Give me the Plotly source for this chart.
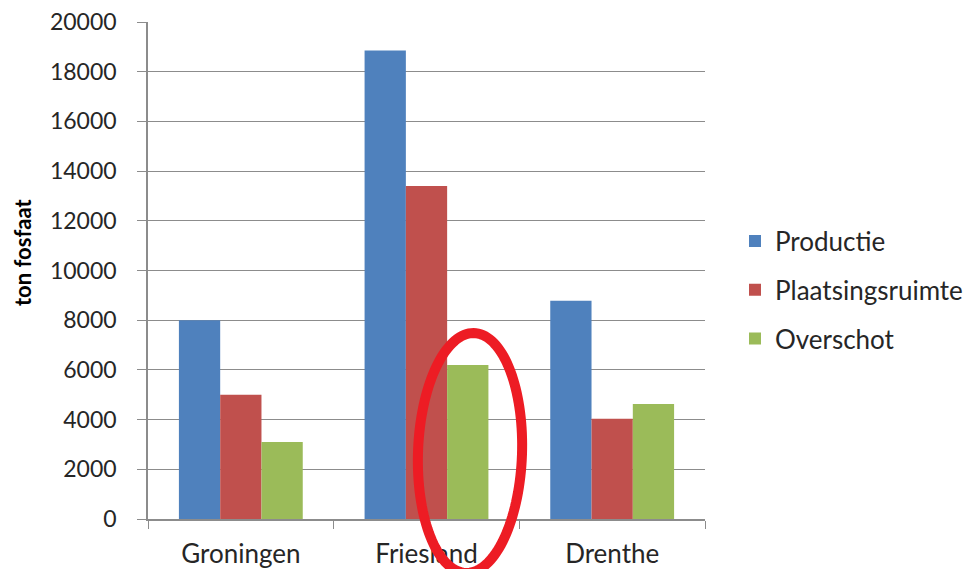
import numpy as np
import plotly.graph_objects as go

categories = ["Groningen", "Friesland", "Drenthe"]
productie = [8000, 18850, 8780]
plaatsingsruimte = [5000, 13400, 4030]
overschot = [3100, 6200, 4630]
series_names = ["Productie", "Plaatsingsruimte", "Overschot"]
colors = ["#4F81BD", "#C0504D", "#9BBB59"]
y_min, y_max, y_step = 0, 20000, 2000

FONT = "Lato"
# page body has an 8px margin; figure occupies x 8..974, y 8..569
OFF = 8
W, H = 974 - OFF, 569 - OFF
L, R, T, B = 148 - OFF, 974 - 705, 22 - OFF, 569 - 519

fig = go.Figure()
for i, (name, vals) in enumerate(zip(series_names, [productie, plaatsingsruimte, overschot])):
    fig.add_trace(go.Bar(x=categories, y=vals, name=name, marker=dict(color=colors[i], line_width=0),
                         legendgroup=name))

# Red ellipse annotation (page-pixel geometry converted to paper coords)
pw, ph = 705 - 148, 519 - 22
cx, cy, a, b, ang = 470, 453, 52, 120, np.deg2rad(2)
t = np.linspace(0, 2 * np.pi, 140)
ex = a * np.cos(t)
ey = b * np.sin(t)
px = cx + ex * np.cos(ang) + ey * np.sin(ang)
py = cy - (-ex * np.sin(ang) + ey * np.cos(ang))
xp = (px - 148) / pw
yp = (519 - py) / ph
path = "M " + " L ".join(f"{x:.5f},{y:.5f}" for x, y in zip(xp, yp)) + " Z"
fig.add_shape(type="path", path=path, xref="paper", yref="paper",
              line=dict(color="#ED1C24", width=10), fillcolor="rgba(0,0,0,0)", layer="above")

fig.add_annotation(text="<b>ton fosfaat</b>", textangle=-90, xref="paper", yref="paper",
                   x=(22 - 148) / pw, y=(519 - 253) / ph, xanchor="center", yanchor="middle",
                   showarrow=False, font=dict(family=FONT, size=22, color="#000000"))

fig.update_layout(
    width=W, height=H,
    margin=dict(l=L, r=R, t=T, b=B, autoexpand=False),
    paper_bgcolor="white", plot_bgcolor="white",
    barmode="group", bargap=0.333, bargroupgap=0,
    font=dict(family=FONT, size=26, color="#262626"),
    legend=dict(x=(735 - 148) / pw, y=(519 - 290) / ph, xanchor="left", yanchor="middle",
                font=dict(size=26, color="#262626"), tracegroupgap=12,
                traceorder="grouped", itemwidth=30),
    xaxis=dict(showline=True, linecolor="#8C8C8C", linewidth=1.5, ticks="outside",
               tickson="boundaries", ticklen=8, tickcolor="#8C8C8C",
               tickfont=dict(size=26), showgrid=False, automargin=False,
               ticklabelstandoff=11),
    yaxis=dict(range=[y_min, y_max], tickmode="linear", tick0=y_min, dtick=y_step,
               tickformat="d", showline=True, ticklabeloverflow="allow",
               linecolor="#8C8C8C", linewidth=1.5, ticks="outside", ticklen=9,
               tickcolor="#8C8C8C", gridcolor="#8C8C8C", gridwidth=1, zeroline=False,
               tickfont=dict(size=23), automargin=False, ticklabelstandoff=16),
    showlegend=True,
)

fig.write_html("out.html")
